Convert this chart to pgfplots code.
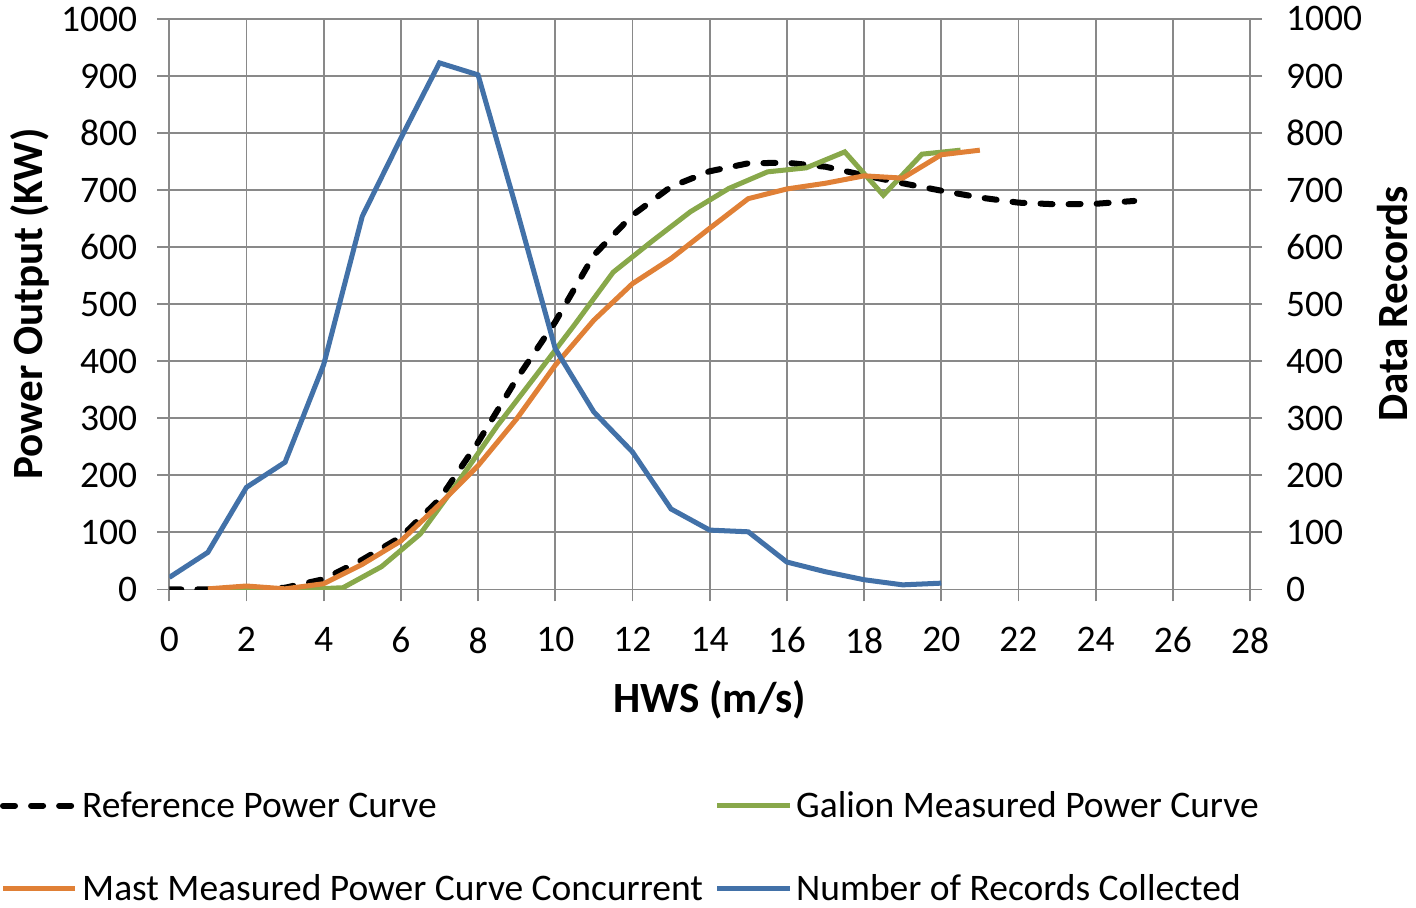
\documentclass[border=0pt]{standalone}
\usepackage{fontspec}
\setmainfont{Carlito}
\usepackage{pgfplots}
\pgfplotsset{compat=1.18}
\definecolor{recblue}{RGB}{66,113,168}
\definecolor{mastorange}{RGB}{224,128,54}
\definecolor{galgreen}{RGB}{136,168,74}
\definecolor{gridgray}{RGB}{137,137,137}
\pgfplotsset{
  base/.style={
    scale only axis, width=539pt, height=284.5pt,
    xmin=0, xmax=28, ymin=0, ymax=1000,
    ytick distance=100,
    tick align=outside, major tick length=6pt,
    tick style={draw=gridgray, line width=0.9pt},
    /pgf/number format/assume math mode=true,
    /pgf/number format/1000 sep={},
    tick label style={font=\fontsize{18.7}{22}\selectfont},
    label style={font=\fontsize{21.5}{26}\selectfont\bfseries},
  },
}
\begin{document}
\begin{tikzpicture}
  \begin{axis}[
      base,
      xtick distance=2,
      xtick pos=bottom, ytick pos=left,
      xticklabel style={yshift=-9.5pt},
      yticklabel style={xshift=-6.5pt},
      grid=major,
      major grid style={gridgray, line width=0.9pt},
      axis line style={gridgray, line width=0.9pt},
      xlabel={HWS (m/s)},
      ylabel={Power Output (KW)},
      xlabel style={at={(axis description cs:0.5,-0.1935)}, anchor=center},
      ylabel style={at={(axis description cs:-0.129,0.5)}, anchor=center, inner sep=4pt},
      legend columns=2,
      legend cell align=left,
      legend style={
          at={(axis description cs:-0.157,-0.346)}, anchor=north west,
          draw=none, inner sep=0pt,
          font=\fontsize{18.7}{22}\selectfont,
          /tikz/row sep=23pt,
          /tikz/every even column/.append style={column sep=4pt},
      },
      legend image code/.code={\draw[#1] (0pt,0pt) -- (36pt,0pt);},
  ]
  \addplot[black, line width=3pt, line cap=round, dash pattern=on 6pt off 8pt]
      coordinates {
          (0,0) (1,0) (2,0) (3,3) (4,18) (5,52) (6,92) (7,158) (8,258)
          (9,369) (10,469) (11,586) (12,656) (13,706) (14,733) (15,747)
          (16,748) (17,741) (18,726) (19,712) (20,699) (21,687) (22,678)
          (23,675) (24,676) (25,681)
      };
  \addlegendentry{Reference Power Curve}

  \addplot[galgreen, line width=2.5pt]
      coordinates {
          (1.5,0) (2.5,0) (3.5,0) (4.5,3) (5.5,40) (6.5,97) (7.5,190)
          (8.5,287) (9.5,375) (10.5,464) (11.5,556) (12.5,610) (13.5,662)
          (14.5,703) (15.5,732) (16.5,739) (17.5,767) (18.5,691)
          (19.5,763) (20.5,770)
      };
  \addlegendentry{Galion Measured Power Curve}

  \addplot[mastorange, line width=2.5pt]
      coordinates {
          (1,1) (2,6) (3,1) (4,10) (5,44) (6,85) (7,149) (8,217) (9,299)
          (10,393) (11,472) (12,536) (13,580) (14,633) (15,685) (16,702)
          (17,712) (18,725) (19,721) (20,762) (21,770)
      };
  \addlegendentry{Mast Measured Power Curve Concurrent}

  \addlegendimage{recblue, line width=2.5pt}
  \addlegendentry{Number of Records Collected}
  \end{axis}

  \begin{axis}[
      base,
      axis x line=none,
      axis y line*=right,
      ytick pos=right,
      yticklabel style={xshift=8.5pt},
      axis line style={gridgray, line width=0.9pt},
      ylabel={Data Records},
      ylabel style={at={(axis description cs:1.132,0.5)}, anchor=center, inner sep=4pt},
  ]
  \addplot[recblue, line width=2.5pt]
      coordinates {
          (0,21) (1,65) (2,179) (3,223) (4,394) (5,654) (6,791) (7,923)
          (8,902) (9,666) (10,422) (11,311) (12,241) (13,141) (14,104)
          (15,101) (16,48) (17,31) (18,17) (19,8) (20,11)
      };
  \end{axis}
\end{tikzpicture}
\end{document}
